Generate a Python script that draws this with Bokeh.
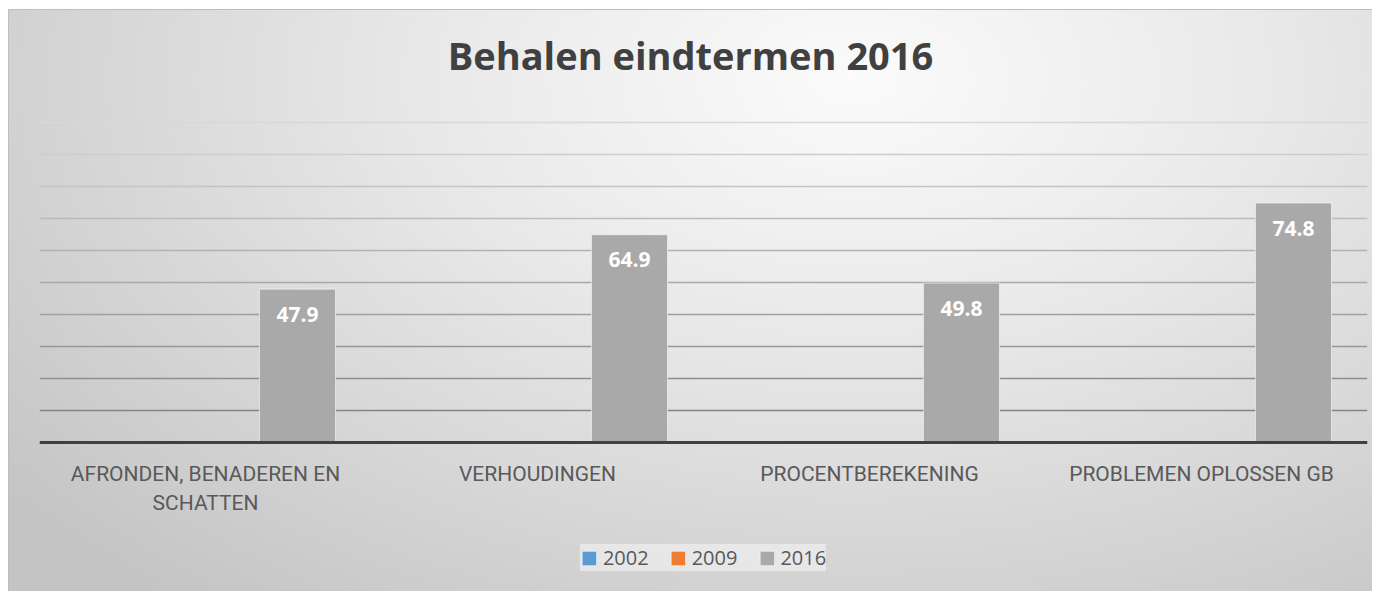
from bokeh.plotting import figure
from bokeh.models import (ColumnDataSource, Range1d, Grid, FixedTicker, Legend,
                          LegendItem, Label)
from bokeh.transform import dodge
from bokeh.core.properties import value
from bokeh.embed import file_html
from bokeh.resources import INLINE

# ---- data ----
title_text = "Behalen eindtermen 2016"
categories = ["AFRONDEN, BENADEREN EN\nSCHATTEN", "VERHOUDINGEN",
              "PROCENTBEREKENING", "PROBLEMEN OPLOSSEN GB"]
years = ["2002", "2009", "2016"]
values_2002 = [float("nan")] * 4
values_2009 = [float("nan")] * 4
values_2016 = [47.9, 64.9, 49.8, 74.8]
y_ticks = [10, 20, 30, 40, 50, 60, 70, 80, 90, 100]

colors = {"2002": "#5b9bd5", "2009": "#ed7d31", "2016": "#a9a9a9"}
offsets = {"2002": -0.277, "2009": 0.0, "2016": 0.277}

src = ColumnDataSource(dict(
    cat=categories,
    v2002=values_2002,
    v2009=values_2009,
    v2016=values_2016,
    lbl=[f"{v:.1f}" for v in values_2016],
))

# frame covers the whole figure height; value axis 0..100 sits in the middle
p = figure(x_range=categories, y_range=Range1d(-46.6, 135.3),
           width=1364, height=582, output_backend="svg",
           toolbar_location=None, min_border_left=31, min_border_right=5,
           min_border_top=0, min_border_bottom=0)
p.margin = (9, 8, 0, 8)
p.title.visible = False

p.styles = {
    "background": "radial-gradient(80% 115% at 62% 12%, #fbfbfb 0%, #e8e8e8 40%, #d6d6d6 70%, #c4c4c4 100%)",
    "box-shadow": "inset 1px 1px 0 #bdbdbd",
}
p.border_fill_alpha = 0
p.background_fill_alpha = 0
p.outline_line_color = None

# grid lines (one per level, darker towards the bottom)
p.xgrid.visible = False
p.ygrid.visible = False
grid_colors = ["#858585", "#8e8e8e", "#979797", "#a0a0a0", "#a9a9a9",
               "#b2b2b2", "#bbbbbb", "#c4c4c4", "#cdcdcd", "#d8d8d8"]
for t, c in zip(y_ticks, grid_colors):
    g = Grid(dimension=1, ticker=FixedTicker(ticks=[t]), grid_line_color=c,
             grid_line_width=1.6)
    p.add_layout(g)

renderers = {}
for yr in years:
    r = p.vbar(x=dodge("cat", offsets[yr], range=p.x_range), top="v" + yr,
               bottom=0, width=0.229, source=src, fill_color=colors[yr],
               line_color="white", line_alpha=0.55, line_width=1)
    renderers[yr] = r

p.text(x=dodge("cat", offsets["2016"], range=p.x_range), y="v2016", text="lbl",
       source=src, text_align="center", text_baseline="middle", y_offset=25,
       text_color="white", text_font=value("Open Sans"),
       text_font_style="bold", text_font_size="21px")

p.yaxis.visible = False
ax = p.xaxis[0]
ax.fixed_location = 0
ax.axis_line_color = "#404040"
ax.axis_line_width = 3
ax.major_tick_line_color = None
ax.minor_tick_line_color = None
ax.major_label_standoff = 14
ax.major_label_text_font = "Roboto"
ax.major_label_text_font_size = "21px"
ax.major_label_text_color = "#595959"

title = Label(x=651, y=537, x_units="screen", y_units="screen", text=title_text,
              text_align="center", text_baseline="middle",
              text_font="Open Sans", text_font_size="38px",
              text_font_style="bold", text_color="#404040")
p.add_layout(title)

legend = Legend(items=[LegendItem(label=yr, renderers=[renderers[yr]]) for yr in years],
                orientation="horizontal", location="bottom_center")
legend.label_text_font = "Open Sans"
legend.label_text_font_size = "20px"
legend.label_text_color = "#595959"
legend.glyph_width = 18
legend.glyph_height = 18
legend.label_standoff = 5
legend.spacing = 20
legend.padding = 13
legend.margin = 20
legend.background_fill_color = "white"
legend.background_fill_alpha = 0.45
legend.border_line_color = None
p.add_layout(legend)

open("out.html", "w").write(file_html(p, INLINE))
